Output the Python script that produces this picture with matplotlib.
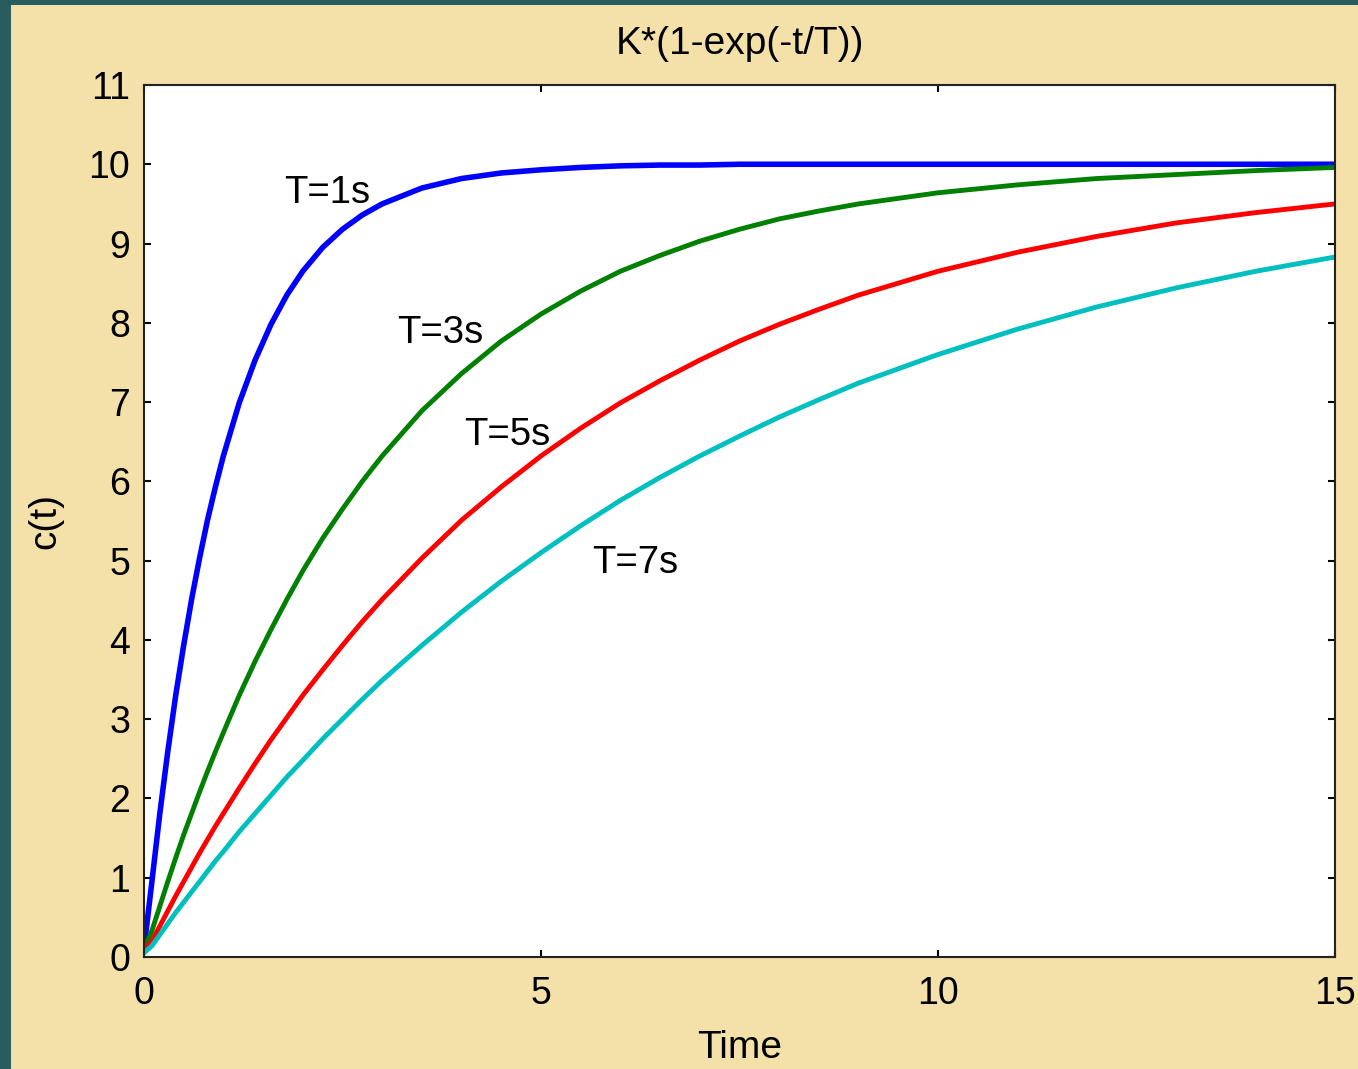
import matplotlib
matplotlib.use('Agg')
import matplotlib.pyplot as plt
from matplotlib.patches import Rectangle

# Time samples (s) and step responses
t = [0, 0.1, 0.2, 0.3, 0.4, 0.5, 0.6, 0.7, 0.8, 0.9, 1.0, 1.2, 1.4, 1.6, 1.8, 2.0, 2.25, 2.5, 2.75,
     3, 3.5, 4, 4.5, 5, 5.5, 6, 6.5, 7, 7.5, 8, 8.5, 9, 10, 11, 12, 13, 14, 15]

c_T1 = [0.1, 0.95, 1.81, 2.59, 3.30, 3.93, 4.51, 5.03, 5.51, 5.93, 6.32, 6.99, 7.53, 7.98, 8.35, 8.65,
        8.95, 9.18, 9.36, 9.50, 9.70, 9.82, 9.89, 9.93, 9.96, 9.98, 9.99, 9.99, 10.0, 10.0, 10.0,
        10.0, 10.0, 10.0, 10.0, 10.0, 10.0, 10.0]
c_T3 = [0.1, 0.33, 0.64, 0.95, 1.25, 1.54, 1.81, 2.08, 2.34, 2.59, 2.83, 3.30, 3.73, 4.13, 4.51, 4.87,
        5.28, 5.65, 6.00, 6.32, 6.89, 7.36, 7.77, 8.11, 8.40, 8.65, 8.85, 9.03, 9.18, 9.31, 9.41,
        9.50, 9.64, 9.74, 9.82, 9.87, 9.92, 9.96]
c_T5 = [0.1, 0.20, 0.39, 0.58, 0.77, 0.95, 1.13, 1.31, 1.48, 1.65, 1.81, 2.13, 2.44, 2.74, 3.02, 3.30,
        3.62, 3.93, 4.23, 4.51, 5.03, 5.51, 5.93, 6.32, 6.67, 6.99, 7.27, 7.53, 7.77, 7.98, 8.17,
        8.35, 8.65, 8.89, 9.09, 9.26, 9.39, 9.50]
c_T7 = [0.05, 0.14, 0.28, 0.42, 0.56, 0.69, 0.82, 0.95, 1.08, 1.21, 1.33, 1.58, 1.81, 2.04, 2.27, 2.48,
        2.75, 3.00, 3.25, 3.49, 3.93, 4.35, 4.74, 5.10, 5.44, 5.76, 6.05, 6.32, 6.57, 6.81, 7.03,
        7.24, 7.60, 7.92, 8.20, 8.44, 8.65, 8.83]

labels = ['T=1s', 'T=3s', 'T=5s', 'T=7s']
label_pos = [(1.77, 9.64), (3.19, 7.87), (4.03, 6.59), (5.65, 4.97)]

bg = '#F4E1AA'
plt.rcParams['font.family'] = ['Liberation Sans', 'DejaVu Sans']

fig = plt.figure(figsize=(13.58, 10.69), dpi=100, facecolor=bg)
# dark slide border on left and top
fig.patches.append(Rectangle((0, 0), 11 / 1358, 1, transform=fig.transFigure,
                             facecolor='#285C5E', edgecolor='none', zorder=0))
fig.patches.append(Rectangle((0, 1 - 5 / 1069), 1, 5 / 1069, transform=fig.transFigure,
                             facecolor='#285C5E', edgecolor='none', zorder=0))

ax = fig.add_axes([0.1060, 0.1048, 0.8771, 0.8157])
ax.set_facecolor('white')

ax.plot(t, c_T1, color='#0000FF', linewidth=4.0)
ax.plot(t, c_T3, color='#008000', linewidth=3.5)
ax.plot(t, c_T5, color='#FF0000', linewidth=3.5)
ax.plot(t, c_T7, color='#00BFBF', linewidth=3.5)

for lab, (x, y) in zip(labels, label_pos):
    ax.text(x, y, lab, fontsize=27.5, ha='left', va='center')

ax.set_xlim(0, 15)
ax.set_ylim(0, 11)
ax.set_xticks([0, 5, 10, 15])
ax.set_yticks(range(0, 12))
ax.tick_params(direction='in', length=5, width=1.5, top=True, right=True, labelsize=27)
ax.tick_params(axis='x', pad=14)
ax.tick_params(axis='y', pad=10)
for lbl in ax.get_xticklabels():
    lbl.set_family(['Liberation Sans Narrow', 'Liberation Sans'])
for s in ax.spines.values():
    s.set_linewidth(1.5)
    s.set_color('#222222')

ax.set_title('K*(1-exp(-t/T))', fontsize=28, pad=22)
ax.set_xlabel('Time', fontsize=28, labelpad=13, family=['Liberation Sans Narrow', 'Liberation Sans'])
ax.set_ylabel('c(t)', fontsize=28, labelpad=18)

fig.savefig('out.png', dpi=100, facecolor=bg)
